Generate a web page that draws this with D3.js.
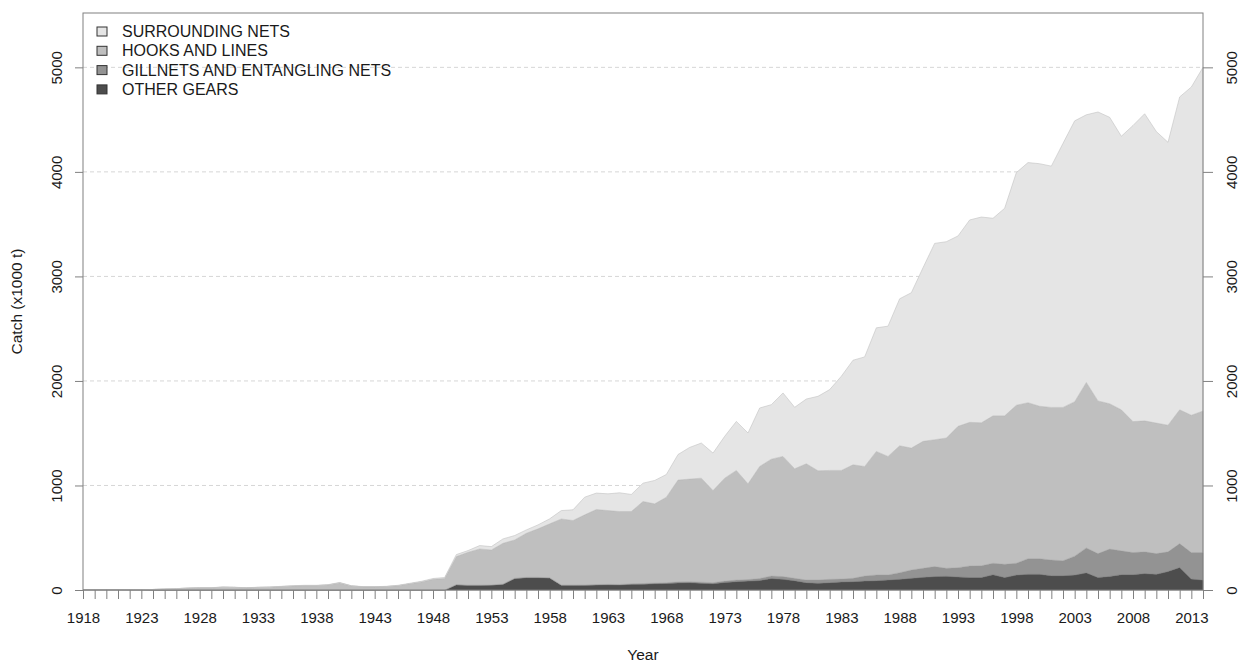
<!DOCTYPE html>
<html>
<head>
<meta charset="utf-8">
<script src="https://cdn.jsdelivr.net/npm/d3@7"></script>
<style>
  body { margin: 0; background: #fff; }
  svg { font-family: "Liberation Sans", Arial, sans-serif; }
</style>
</head>
<body>
<svg id="chart" width="1242" height="664"></svg>
<script>
// Catch by gear type, thousand tonnes
var years = d3.range(1918, 2015);

var otherGears = [
  0, 0, 0, 0, 0, 0, 0, 0, 0, 0,
  0, 0, 0, 0, 0, 0, 0, 0, 0, 0,
  0, 0, 0, 0, 0, 0, 0, 0, 0, 0,
  0, 0,
  50, 45, 45, 47, 55, 110, 118, 118, 115, 45,
  45, 45, 48, 50, 48, 55, 55, 60, 62, 68,
  70, 65, 60, 72, 80, 85, 90, 110, 102, 89,
  70, 64, 70, 77, 80, 86, 89, 96, 102, 112,
  121, 128, 131, 125, 119, 119, 147, 119, 143, 150,
  150, 137, 137, 143, 164, 119, 130, 147, 147, 157,
  150, 177, 215, 105, 95
];

var gillnets = [
  0, 0, 0, 0, 0, 0, 0, 0, 0, 0,
  0, 0, 0, 0, 0, 0, 0, 0, 0, 0,
  0, 0, 0, 0, 0, 0, 0, 0, 0, 0,
  0, 0,
  2, 2, 2, 2, 2, 3, 3, 3, 3, 3,
  3, 4, 4, 4, 5, 5, 7, 7, 8, 10,
  10, 10, 10, 13, 15, 15, 20, 24, 26, 23,
  26, 32, 32, 28, 32, 48, 55, 48, 64, 80,
  87, 96, 77, 89, 111, 113, 109, 127, 113, 150,
  150, 150, 143, 181, 239, 229, 262, 228, 211, 208,
  198, 188, 229, 253, 263
];

var hooksLines = [
  0, 0, 0, 0, 1, 2, 5, 10, 13, 18,
  21, 21, 27, 25, 21, 25, 27, 33, 38, 42,
  42, 48, 68, 39, 30, 30, 33, 41, 59, 77,
  102, 110,
  268, 314, 346, 334, 390, 366, 422, 464, 515, 632,
  617, 670, 718, 706, 698, 691, 785, 757, 818, 974,
  981, 995, 882, 985, 1049, 916, 1072, 1118, 1150, 1048,
  1112, 1045, 1042, 1039, 1086, 1048, 1182, 1134, 1214, 1166,
  1214, 1214, 1246, 1352, 1374, 1368, 1410, 1420, 1512, 1492,
  1458, 1460, 1467, 1478, 1583, 1461, 1390, 1349, 1253, 1253,
  1249, 1212, 1280, 1314, 1355
];

var surrounding = [
  0, 0, 0, 0, 0, 0, 0, 0, 0, 1,
  1, 1, 2, 1, 1, 1, 2, 2, 3, 3,
  3, 3, 4, 2, 2, 2, 2, 4, 5, 6,
  8, 10,
  19, 16, 32, 32, 42, 42, 32, 38, 48, 80,
  102, 169, 157, 160, 179, 163, 175, 224, 217, 244,
  303, 336, 358, 400, 469, 486, 559, 521, 607, 588,
  619, 712, 773, 901, 1000, 1048, 1182, 1246, 1406, 1486,
  1661, 1878, 1878, 1821, 1936, 1968, 1890, 1986, 2225, 2297,
  2320, 2308, 2526, 2686, 2560, 2764, 2740, 2617, 2833, 2938,
  2789, 2706, 2993, 3140, 3287
];

var gearKeys = ["other", "gill", "hooks", "surr"];
var gearNames = ["OTHER GEARS", "GILLNETS AND ENTANGLING NETS", "HOOKS AND LINES", "SURROUNDING NETS"];
var gearFill = ["#4d4d4d", "#939393", "#bfbfbf", "#e5e5e5"];
var gearLine = ["#3a3a3a", "#7d7d7d", "#a9a9a9", "#c2c2c2"];

var yTicks = [0, 1000, 2000, 3000, 4000, 5000];
var xLabelStep = 5;

(function () {
  var rows = years.map(function (yr, i) {
    return { year: yr, other: otherGears[i], gill: gillnets[i], hooks: hooksLines[i], surr: surrounding[i] };
  });

  var plotLeft = 83, plotRight = 1203, plotTop = 13, plotBottom = 590;

  var svg = d3.select("#chart");

  var x = d3.scaleLinear().domain([1918, 2014]).range([plotLeft, plotRight]);
  var y = d3.scaleLinear().domain([0, 5520]).range([plotBottom, plotTop]);

  // dashed grid behind the areas
  svg.append("g")
    .selectAll("line")
    .data(yTicks.filter(function (d) { return d > 0; }))
    .enter().append("line")
    .attr("x1", plotLeft)
    .attr("x2", plotRight)
    .attr("y1", function (d) { return y(d); })
    .attr("y2", function (d) { return y(d); })
    .attr("stroke", "#d6d6d6")
    .attr("stroke-dasharray", "4,3");

  var layers = d3.stack().keys(gearKeys)(rows);

  var area = d3.area()
    .x(function (d) { return x(d.data.year); })
    .y0(function (d) { return y(d[0]); })
    .y1(function (d) { return y(d[1]); });

  svg.append("g")
    .selectAll("path")
    .data(layers)
    .enter().append("path")
    .attr("d", area)
    .attr("fill", function (d, i) { return gearFill[i]; })
    .attr("stroke", function (d, i) { return gearLine[i]; })
    .attr("stroke-width", 0.6);

  // axes
  var xAxis = d3.axisBottom(x)
    .tickValues(years)
    .tickSize(9)
    .tickPadding(13)
    .tickFormat(function (d) { return (d - 1918) % xLabelStep === 0 ? d : ""; });

  var gx = svg.append("g")
    .attr("transform", "translate(0," + plotBottom + ")")
    .call(xAxis);

  var gl = svg.append("g")
    .attr("transform", "translate(" + plotLeft + ",0)")
    .call(d3.axisLeft(y).tickValues(yTicks).tickSize(8).tickFormat(d3.format("d")));

  var gr = svg.append("g")
    .attr("transform", "translate(" + plotRight + ",0)")
    .call(d3.axisRight(y).tickValues(yTicks).tickSize(10).tickFormat(d3.format("d")));

  gl.selectAll(".tick text")
    .attr("x", 0).attr("y", 0).attr("dy", 0)
    .attr("text-anchor", "middle")
    .attr("transform", "translate(-21,0) rotate(-90)");

  gr.selectAll(".tick text")
    .attr("x", 0).attr("y", 0).attr("dy", 0)
    .attr("text-anchor", "middle")
    .attr("transform", "translate(34,0) rotate(-90)");

  [gx, gl, gr].forEach(function (g) {
    g.select(".domain").remove();
    g.attr("font-family", null).attr("font-size", null);
    g.selectAll(".tick line").attr("stroke", "#808080");
    g.selectAll(".tick text").attr("fill", "#1a1a1a").style("font-size", "15px");
  });

  // plot frame
  svg.append("rect")
    .attr("x", plotLeft)
    .attr("y", plotTop)
    .attr("width", plotRight - plotLeft)
    .attr("height", plotBottom - plotTop)
    .attr("fill", "none")
    .attr("stroke", "#808080");

  // axis titles
  svg.append("text")
    .attr("x", (plotLeft + plotRight) / 2)
    .attr("y", 660)
    .attr("text-anchor", "middle")
    .attr("fill", "#1a1a1a")
    .style("font-size", "15.5px")
    .text("Year");

  svg.append("text")
    .attr("transform", "translate(22," + (plotTop + plotBottom) / 2 + ") rotate(-90)")
    .attr("text-anchor", "middle")
    .attr("fill", "#1a1a1a")
    .style("font-size", "15.5px")
    .text("Catch (x1000 t)");

  // legend, top gear first
  var legend = svg.append("g")
    .selectAll("g")
    .data([3, 2, 1, 0])
    .enter().append("g")
    .attr("transform", function (d, i) { return "translate(97," + (27 + i * 19.3) + ")"; });

  legend.append("rect")
    .attr("width", 10)
    .attr("height", 9)
    .attr("fill", function (d) { return gearFill[d]; })
    .attr("stroke", "#333");

  legend.append("text")
    .attr("x", 25)
    .attr("y", 10)
    .attr("fill", "#1a1a1a")
    .style("font-size", "16px")
    .text(function (d) { return gearNames[d]; });
})();
</script>
</body>
</html>
